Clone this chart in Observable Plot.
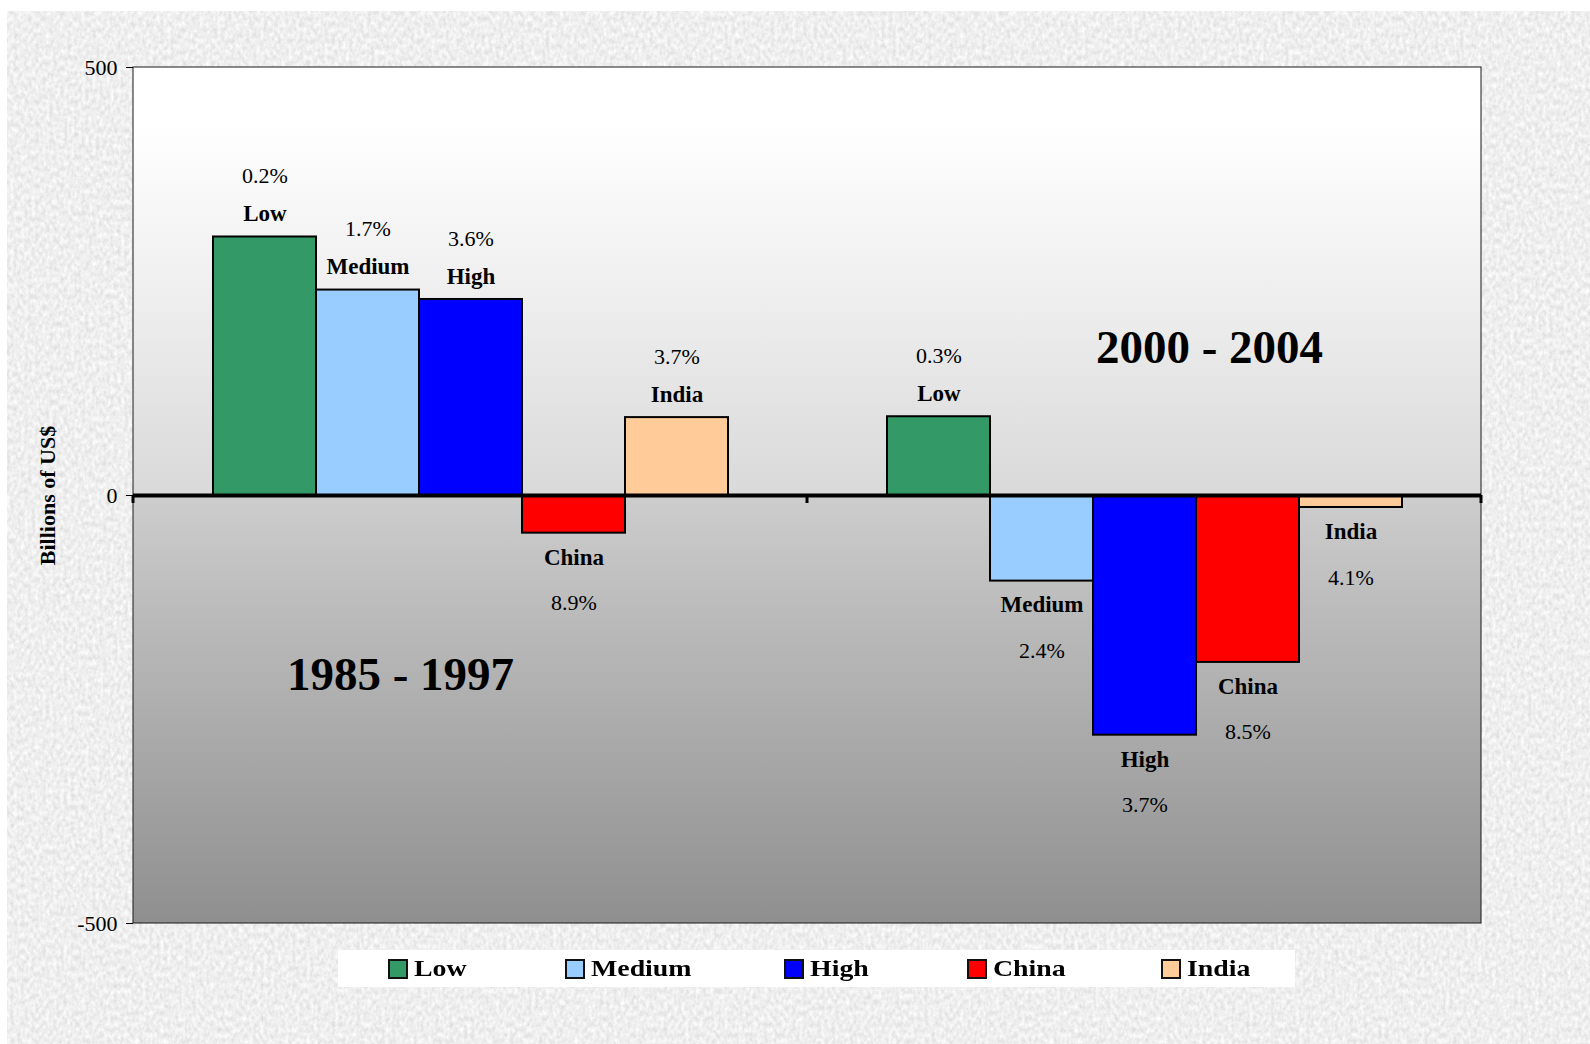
<!DOCTYPE html>
<html>
<head>
<meta charset="utf-8">
<script src="https://cdn.jsdelivr.net/npm/d3@7"></script>
<script src="https://cdn.jsdelivr.net/npm/@observablehq/plot@0.6"></script>
<style>
  html, body { margin: 0; padding: 0; background: #fff; width: 1590px; height: 1044px; overflow: hidden; }
  #stage { position: relative; width: 1590px; height: 1044px; }
  #paper { position: absolute; left: 7px; top: 11px; }
  #chart { position: absolute; left: 0; top: 0; }
  #legend {
    position: absolute; left: 338px; top: 950px; width: 957px; height: 37px;
    box-sizing: border-box; padding-left: 50px; background: #fff;
    display: flex; align-items: center; gap: 106px;
    font: bold 24px "Liberation Serif", "Times New Roman", serif; color: #000;
  }
  #legend .item { display: flex; align-items: center; }
  #legend .sw { width: 20px; height: 20px; box-sizing: border-box; border: 2px solid #111; margin-right: 6px; }
  #legend .lbl { display: inline-block; transform: scaleX(1.16); transform-origin: left center; }
</style>
</head>
<body>
<div id="stage">
  <svg id="paper" width="1583" height="1033">
    <defs>
      <filter id="grain" filterUnits="userSpaceOnUse" x="0" y="0" width="1583" height="1033">
        <feTurbulence type="fractalNoise" baseFrequency="0.28 0.18" numOctaves="3" seed="11" result="noise"/>
        <feColorMatrix in="noise" type="matrix"
          values="0.36 0 0 0 0.68  0.36 0 0 0 0.68  0.36 0 0 0 0.68  0 0 0 0 1"/>
      </filter>
    </defs>
    <rect width="1583" height="1033" fill="#dcdcdc" filter="url(#grain)"/>
  </svg>
  <div id="chart"></div>
  <div id="legend"></div>
</div>
<script>
// Trade balance by skill intensity, billions of US$, for two periods
const periods = ["1985 - 1997", "2000 - 2004"];
const categories = ["Low", "Medium", "High", "China", "India"];
const values1985 = [302, 240, 229, -44, 91];
const values2000 = [92, -100, -280, -195, -14];
const growth1985 = ["0.2%", "1.7%", "3.6%", "8.9%", "3.7%"];
const growth2000 = ["0.3%", "2.4%", "3.7%", "8.5%", "4.1%"];
const colors = ["#339966", "#99CCFF", "#0000FF", "#FF0000", "#FFCC99"];
const yTicks = [-500, 0, 500];
const yTitle = "Billions of US$";

const rows = [
  ...categories.map((c, i) => ({period: periods[0], category: c, value: values1985[i], growth: growth1985[i]})),
  ...categories.map((c, i) => ({period: periods[1], category: c, value: values2000[i], growth: growth2000[i]}))
];
const up = rows.filter(d => d.value >= 0);
const down = rows.filter(d => d.value < 0);

const serif = '"Liberation Serif", "Times New Roman", serif';

const chart = Plot.plot({
  width: 1590,
  height: 1044,
  marginLeft: 133,
  marginRight: 109,
  marginTop: 67,
  marginBottom: 121,
  style: {background: "none", fontFamily: serif, fontSize: "22px", color: "#000", overflow: "visible"},
  fx: {domain: periods, padding: 0, axis: null, label: null},
  x: {domain: categories, paddingInner: 0, paddingOuter: 0.745, axis: null, label: null},
  y: {domain: [-500, 500], axis: null},
  color: {domain: categories, range: colors},
  marks: [
    Plot.axisY({ticks: yTicks, tickSize: 7, tickPadding: 9, tickFormat: d => String(d), label: null, fontSize: 22}),
    Plot.barY(rows, {fx: "period", x: "category", y: "value", fill: "category", stroke: "#000", strokeWidth: 2, inset: 0}),
    Plot.ruleY([0], {stroke: "#000", strokeWidth: 4}),
    // series names next to the bar ends
    Plot.text(up, {fx: "period", x: "category", y: "value", text: "category", dy: -23, fontWeight: "bold", fontSize: 23}),
    Plot.text(down, {fx: "period", x: "category", y: "value", text: "category", dy: 24, fontWeight: "bold", fontSize: 23}),
    // growth rates beyond the names
    Plot.text(up, {fx: "period", x: "category", y: "value", text: "growth", dy: -61, fontSize: 22}),
    Plot.text(down, {fx: "period", x: "category", y: "value", text: "growth", dy: 70, fontSize: 22}),
    // period headings
    Plot.text([{period: periods[0]}], {fx: "period", text: "period", frameAnchor: "middle", dx: -70, dy: 179, fontWeight: "bold", fontSize: 47}),
    Plot.text([{period: periods[1]}], {fx: "period", text: "period", frameAnchor: "middle", dx: 65, dy: -148, fontWeight: "bold", fontSize: 47}),
    // y axis title
    Plot.text([{period: periods[0]}], {fx: "period", text: () => yTitle, frameAnchor: "left", textAnchor: "middle", rotate: -90, dx: -86, fontWeight: "bold", fontSize: 22})
  ]
});

document.getElementById("chart").appendChild(chart);

// Shaded plot area with border, placed under the marks using the chart's scales
const svg = d3.select(chart);
const fxScale = chart.scale("fx");
const yScale = chart.scale("y");
const frameLeft = Math.min(...fxScale.range), frameRight = Math.max(...fxScale.range);
const frameTop = Math.min(...yScale.range), frameBottom = Math.max(...yScale.range);

const defs = svg.insert("defs", ":first-child");
const grad = defs.append("linearGradient").attr("id", "plotShade").attr("x1", 0).attr("y1", 0).attr("x2", 0).attr("y2", 1);
[
  [0, "#ffffff"], [0.062, "#ffffff"], [0.307, "#ebebeb"], [0.498, "#d9d9d9"],
  [0.502, "#cdcdcd"], [0.646, "#bababa"], [0.891, "#9d9d9d"], [1, "#8f8f8f"]
].forEach(([o, c]) => grad.append("stop").attr("offset", o).attr("stop-color", c));

const bg = document.createElementNS("http://www.w3.org/2000/svg", "rect");
defs.node().after(bg);
d3.select(bg)
  .attr("x", frameLeft).attr("y", frameTop).attr("width", frameRight - frameLeft).attr("height", frameBottom - frameTop)
  .attr("fill", "url(#plotShade)").attr("stroke", "#1a1a1a").attr("stroke-width", 1);

// Category-axis ticks on the zero line at the period boundaries
const y0 = yScale.apply(0);
const edges = Array.from(new Set(fxScale.domain.flatMap(p => [fxScale.apply(p), fxScale.apply(p) + fxScale.bandwidth])));
svg.append("g").selectAll("line").data(edges).join("line")
  .attr("x1", d => d).attr("x2", d => d)
  .attr("y1", y0).attr("y2", y0 + 8)
  .attr("stroke", "#000").attr("stroke-width", 3);

// Legend
const legend = d3.select("#legend");
categories.forEach((c, i) => {
  const item = legend.append("div").attr("class", "item");
  item.append("div").attr("class", "sw").style("background", colors[i]);
  item.append("span").attr("class", "lbl").text(c);
});
</script>
</body>
</html>
